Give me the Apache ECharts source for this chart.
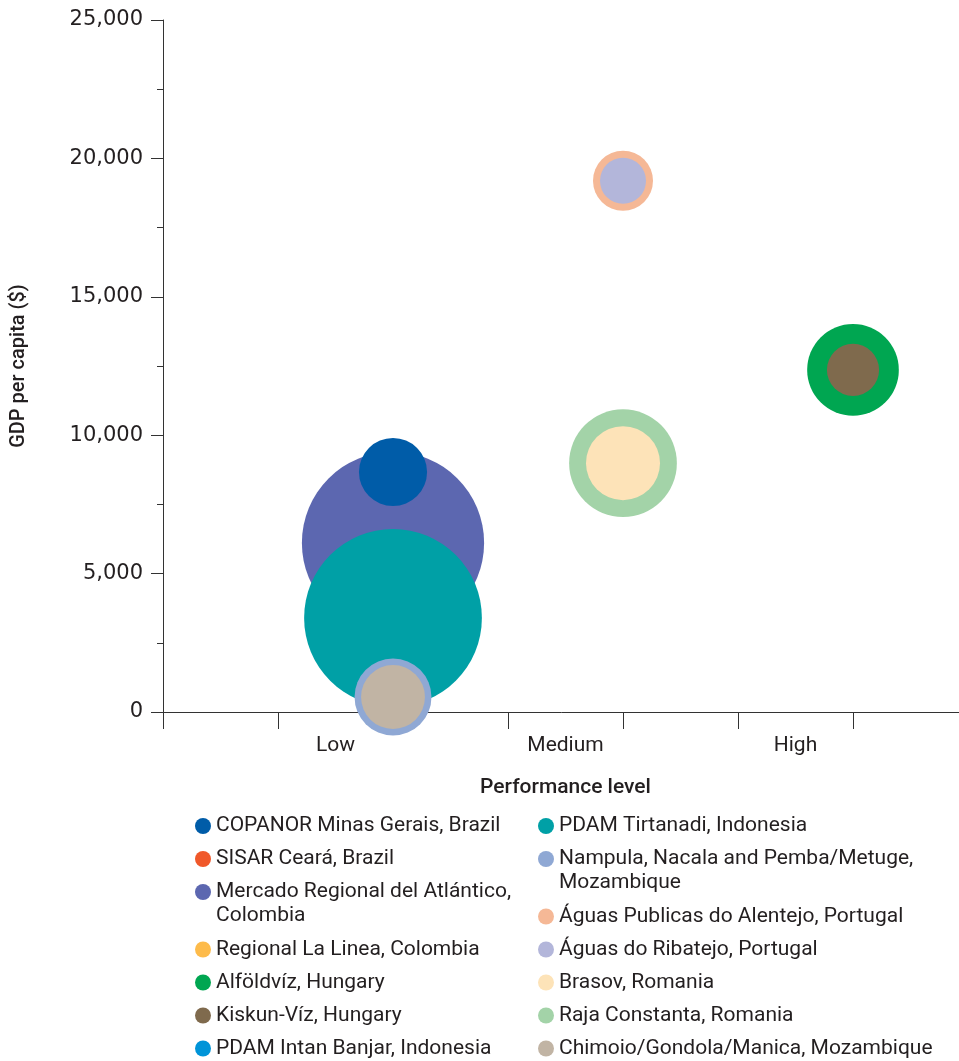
<!DOCTYPE html>
<html><head><meta charset="utf-8">
<script src="https://cdn.jsdelivr.net/npm/echarts@6/dist/echarts.min.js"></script>
<style>html,body{margin:0;padding:0;background:#fff}#c{width:959px;height:1061px}</style>
</head><body><div id="c"></div>
<script>
// ---- data ----
const levels = ['Low', 'Medium', 'High'];
const utilities = [
  'COPANOR Minas Gerais, Brazil',
  'SISAR Ceará, Brazil',
  'Mercado Regional del Atlántico, Colombia',
  'Regional La Linea, Colombia',
  'Alföldvíz, Hungary',
  'Kiskun-Víz, Hungary',
  'PDAM Intan Banjar, Indonesia',
  'PDAM Tirtanadi, Indonesia',
  'Nampula, Nacala and Pemba/Metuge, Mozambique',
  'Águas Publicas do Alentejo, Portugal',
  'Águas do Ribatejo, Portugal',
  'Brasov, Romania',
  'Raja Constanta, Romania',
  'Chimoio/Gondola/Manica, Mozambique'
];
const legendLabels = [
  'COPANOR Minas Gerais, Brazil',
  'SISAR Ceará, Brazil',
  'Mercado Regional del Atlántico,\nColombia',
  'Regional La Linea, Colombia',
  'Alföldvíz, Hungary',
  'Kiskun-Víz, Hungary',
  'PDAM Intan Banjar, Indonesia',
  'PDAM Tirtanadi, Indonesia',
  'Nampula, Nacala and Pemba/Metuge,\nMozambique',
  'Águas Publicas do Alentejo, Portugal',
  'Águas do Ribatejo, Portugal',
  'Brasov, Romania',
  'Raja Constanta, Romania',
  'Chimoio/Gondola/Manica, Mozambique'
];
const performance = ['Low','Low','Low','Low','High','High','Low','Low','Low','Medium','Medium','Medium','Medium','Low'];
const gdpPerCapita = [8670, 8670, 6110, 6110, 12360, 12360, 3400, 3400, 540, 19190, 19190, 8990, 8990, 540];
const bubbleSize = [1160, 600, 8300, 2000, 2100, 680, 2500, 7900, 1480, 900, 530, 1370, 2900, 1020];

// ---- styles ----
const colors = ['#005ca8','#f0582a','#5c67b0','#fdbb4b','#00a651','#7f6a4d','#0094d8',
                '#00a0a6','#8fa8d4','#f5b896','#b3b6da','#fde3b8','#a3d3a8','#c1b4a4'];
const drawOrder = [3,1,2,1,2,3,1,4,5,2,3,3,2,6];
const FONT = 'Roboto';
const TEXT = '#231f20';

const chart = echarts.init(document.getElementById('c'), null, {renderer:'canvas'});

const series = utilities.map((n, i) => ({
  type: 'scatter',
  name: n,
  xAxisIndex: 0, yAxisIndex: 0,
  data: [[levels.indexOf(performance[i]) * 2 + 2, gdpPerCapita[i], bubbleSize[i]]],
  symbolSize: d => 2 * Math.sqrt(d[2]),
  itemStyle: { color: colors[i], opacity: 1 },
  z: drawOrder[i],
  clip: false,
  emphasis: { disabled: true },
  silent: true
}));

// one legend component per entry, stacked per column
const legends = [];
function column(idxs, left) {
  let y = 826;                       // centre of first text line
  idxs.forEach(i => {
    const two = legendLabels[i].indexOf('\n') >= 0;
    legends.push({
      orient: 'vertical', left: left, top: two ? y - 36 : y - 12, padding: 0,
      height: 200,
      itemWidth: 16, itemHeight: 16, itemGap: 0, icon: 'circle',
      selectedMode: false,
      data: [utilities[i]],
      formatter: () => two ? '\u00a0\n' + legendLabels[i] : legendLabels[i],
      textStyle: { fontFamily: FONT, fontSize: 21, color: TEXT, lineHeight: 24 }
    });
    y += two ? 57.5 : 33;
  });
}
column([0,1,2,3,4,5,6], 195);
column([7,8,9,10,11,12,13], 538);

chart.setOption({
  animation: false,
  backgroundColor: '#fff',
  grid: { left: 163, top: 20, width: 805, height: 692, containLabel: false, outerBoundsMode: 'none' },
  xAxis: [
    {
      type: 'value', position: 'bottom', min: 0, max: 7, interval: 1,
      axisLine: { show: true, lineStyle: { color: '#333', width: 1 } },
      axisTick: { show: true, length: 17, lineStyle: { color: '#333', width: 1 } },
      axisLabel: { show: false }, splitLine: { show: false }
    },
    {
      type: 'value', position: 'bottom', min: 0, max: 7, interval: 0.5,
      axisLine: { show: false }, axisTick: { show: false }, splitLine: { show: false },
      axisLabel: {
        show: true, margin: 23, fontFamily: FONT, fontSize: 21, color: TEXT,
        formatter: v => { const k = (v - 1.5) / 2; return (Number.isInteger(k) && levels[k]) ? levels[k] : ''; }
      },
      name: 'Performance level', nameLocation: 'middle', nameGap: 65,
      nameTextStyle: { fontFamily: FONT, fontSize: 21, fontWeight: 500, color: TEXT }
    }
  ],
  yAxis: {
    type: 'value', min: 0, max: 25000, interval: 5000,
    axisLine: { show: true, lineStyle: { color: '#333', width: 1 } },
    axisTick: { show: true, length: 12, lineStyle: { color: '#333', width: 1 } },
    minorTick: { show: true, splitNumber: 2, length: 6, lineStyle: { color: '#333', width: 1 } },
    splitLine: { show: false }, minorSplitLine: { show: false },
    axisLabel: { fontFamily: 'DejaVu Sans', fontSize: 21, color: TEXT, margin: 20 },
    name: 'GDP per capita ($)', nameLocation: 'middle', nameGap: 134,
    nameTextStyle: { fontFamily: FONT, fontSize: 20, fontWeight: 500, color: TEXT }
  },
  legend: legends,
  series: series
});
</script></body></html>
